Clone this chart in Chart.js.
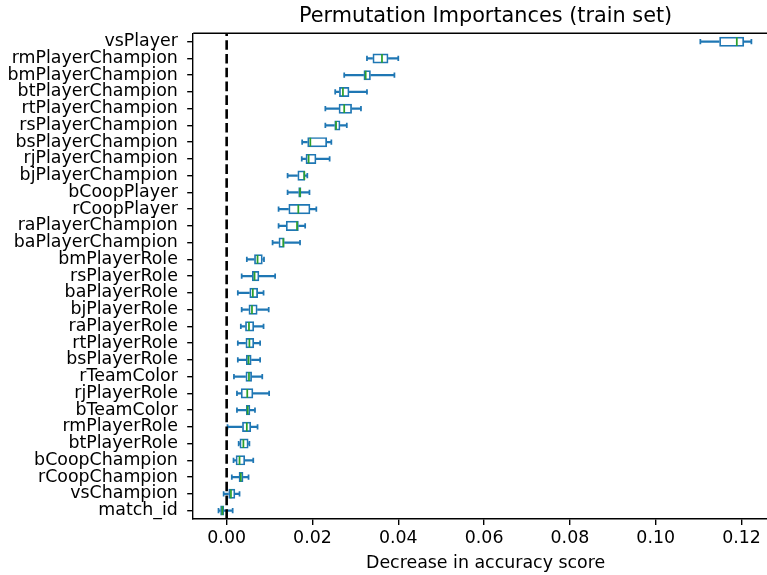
<!DOCTYPE html>
<html><head><meta charset="utf-8">
<script src="https://cdn.jsdelivr.net/npm/chart.js@4"></script>
<style>
html,body{margin:0;padding:0;overflow:hidden;background:#fff;width:767px;height:575px}
#wrap{position:absolute;left:0;top:0;width:790px;height:575px}
</style>
</head><body><div id="wrap"><canvas id="c"></canvas></div>
<script>
const features = ['vsPlayer','rmPlayerChampion','bmPlayerChampion','btPlayerChampion','rtPlayerChampion','rsPlayerChampion','bsPlayerChampion','rjPlayerChampion','bjPlayerChampion','bCoopPlayer','rCoopPlayer','raPlayerChampion','baPlayerChampion','bmPlayerRole','rsPlayerRole','baPlayerRole','bjPlayerRole','raPlayerRole','rtPlayerRole','bsPlayerRole','rTeamColor','rjPlayerRole','bTeamColor','rmPlayerRole','btPlayerRole','bCoopChampion','rCoopChampion','vsChampion','match_id'];
const whiskerLow  = [0.1104,0.0327,0.0274,0.0253,0.0230,0.0230,0.0176,0.0175,0.0142,0.0142,0.0121,0.0121,0.0107,0.0047,0.0035,0.0026,0.0035,0.0033,0.0026,0.0026,0.0017,0.0024,0.0024,0.0002,0.0028,0.0016,0.0012,-0.0007,-0.0019];
const quart1      = [0.1148,0.0340,0.0319,0.0262,0.0261,0.0251,0.0188,0.0184,0.0165,0.0167,0.0144,0.0138,0.0121,0.0064,0.0059,0.0053,0.0051,0.0043,0.0044,0.0045,0.0044,0.0033,0.0045,0.0036,0.0030,0.0021,0.0028,0.0004,-0.0015];
const median      = [0.1189,0.0362,0.0324,0.0271,0.0274,0.0255,0.0195,0.0191,0.0181,0.0171,0.0167,0.0164,0.0132,0.0072,0.0065,0.0061,0.0059,0.0052,0.0053,0.0051,0.0052,0.0048,0.0049,0.0047,0.0039,0.0030,0.0033,0.0010,-0.0010];
const quart3      = [0.1206,0.0377,0.0336,0.0286,0.0292,0.0265,0.0234,0.0209,0.0183,0.0174,0.0195,0.0168,0.0135,0.0084,0.0076,0.0073,0.0072,0.0064,0.0064,0.0058,0.0059,0.0062,0.0055,0.0057,0.0051,0.0043,0.0039,0.0020,-0.0006];
const whiskerHigh = [0.1223,0.0400,0.0391,0.0327,0.0313,0.0280,0.0244,0.0240,0.0188,0.0193,0.0209,0.0183,0.0171,0.0087,0.0113,0.0086,0.0098,0.0086,0.0078,0.0078,0.0083,0.0099,0.0066,0.0072,0.0053,0.0062,0.0051,0.0030,0.0014];
const xTickValues = [0, 0.02, 0.04, 0.06, 0.08, 0.10, 0.12];
const xTickLabels = ['0.00','0.02','0.04','0.06','0.08','0.10','0.12'];
const referenceValue = 0;
const titleText = 'Permutation Importances (train set)';
const xAxisLabel = 'Decrease in accuracy score';

const BLUE = '#1f77b4', GREEN = '#2ca02c';
const LW = 1.74;

const boxData = features.map((f,i)=>[quart1[i], quart3[i]]);
const lowWhiskers = features.map((f,i)=>[whiskerLow[i], quart1[i]]);
const highWhiskers = features.map((f,i)=>[quart3[i], whiskerHigh[i]]);
const capPoints = features.flatMap((f,i)=>[{x: whiskerLow[i], y: f}, {x: whiskerHigh[i], y: f}]);
const medianPoints = features.map((f,i)=>({x: median[i], y: f}));

Chart.defaults.font.family = "'DejaVu Sans', sans-serif";
Chart.defaults.color = '#000';

const framePlugin = {
  id: 'frame',
  afterDatasetsDraw(chart) {
    const {ctx, chartArea: a, scales: {x}} = chart;
    const px = x.getPixelForValue(referenceValue);
    ctx.save();
    ctx.strokeStyle = '#000';
    ctx.lineWidth = 2.6;
    ctx.setLineDash([9.6, 4.2]);
    ctx.beginPath(); ctx.moveTo(px, a.bottom); ctx.lineTo(px, a.top); ctx.stroke();
    ctx.setLineDash([]);
    ctx.lineWidth = 1.39;
    ctx.beginPath(); ctx.moveTo(a.left, a.top); ctx.lineTo(a.right, a.top); ctx.lineTo(a.right, a.bottom); ctx.stroke();
    ctx.restore();
  }
};

const axisGrid = {display: true, drawOnChartArea: false, drawTicks: true, tickLength: 6, tickWidth: 1.39, tickColor: '#000', color: '#000', lineWidth: 1.39};

new Chart(document.getElementById('c'), {
  type: 'bar',
  data: {
    labels: features,
    datasets: [
      {type:'bar', label:'box', data: boxData, backgroundColor:'rgba(0,0,0,0)', borderColor: BLUE, borderWidth: LW, borderSkipped: false, grouped: false, categoryPercentage: 0.6, barPercentage: 1, order: 1},
      {type:'bar', label:'whiskerLow', data: lowWhiskers, backgroundColor: BLUE, borderWidth: 0, barThickness: LW, grouped: false, order: 3},
      {type:'bar', label:'whiskerHigh', data: highWhiskers, backgroundColor: BLUE, borderWidth: 0, barThickness: LW, grouped: false, order: 3},
      {type:'scatter', label:'caps', data: capPoints, pointStyle:'line', pointRotation: 90, pointRadius: 2.6, pointBorderColor: BLUE, pointBorderWidth: LW, order: 2},
      {type:'scatter', label:'median', data: medianPoints, pointStyle:'line', pointRotation: 90, pointRadius: 4.3, pointBorderColor: GREEN, pointBorderWidth: LW, order: 0}
    ]
  },
  options: {
    indexAxis: 'y',
    responsive: true,
    maintainAspectRatio: false,
    animation: false,
    events: [],
    devicePixelRatio: 1,
    layout: {padding: {left: -1.8, right: 12, top: 0, bottom: 0}},
    scales: {
      x: {
        type: 'linear', min: -0.0078, max: 0.1285,
        afterBuildTicks: s => { s.ticks = xTickValues.map(v => ({value: v})); },
        ticks: {font: {size: 17.4}, color: '#000', padding: 3.06, maxRotation: 0, callback: (v, i) => xTickLabels[i]},
        grid: axisGrid,
        border: {display: true, color: '#000', width: 1.39},
        title: {display: true, text: xAxisLabel, color: '#000', font: {size: 17.4}, padding: {top: 0.7, bottom: 1.46}}
      },
      y: {
        type: 'category', offset: true,
        grid: Object.assign({offset: false}, axisGrid),
        border: {display: true, color: '#000', width: 1.39},
        ticks: {font: {size: 17.4}, color: '#000', padding: 9.3, autoSkip: false}
      }
    },
    plugins: {
      legend: {display: false},
      tooltip: {enabled: false},
      title: {display: true, text: titleText, fullSize: false, color: '#000', font: {size: 20.8, weight: 'normal'}, padding: {top: 4.3, bottom: 4.04}}
    }
  },
  plugins: [framePlugin]
});
</script>
</body></html>
